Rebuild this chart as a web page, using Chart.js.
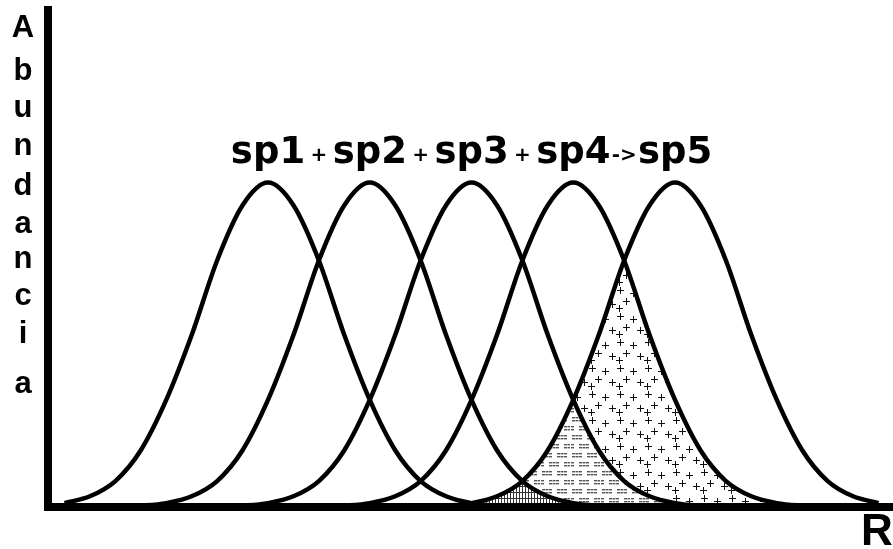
<!DOCTYPE html>
<html>
<head>
<meta charset="utf-8">
<script src="https://cdn.jsdelivr.net/npm/chart.js@4.4.1/dist/chart.umd.min.js"></script>
<style>
  html, body { margin: 0; padding: 0; background: #fff; }
</style>
</head>
<body>
<canvas id="nicheChart" width="893" height="549"></canvas>
<script>
// eje R (recurso)
const rValues = [0, 2.5, 5, 7.5, 10, 12.5, 15, 17.5, 20, 22.5, 25, 27.5, 30, 32.5, 35, 37.5, 40,
                 42.5, 45, 47.5, 50, 52.5, 55, 57.5, 60, 62.5, 65, 67.5, 70, 72.5, 75, 77.5, 80];

// abundancia de cada especie
const sp1 = [1.2, 3.3, 8, 17.5, 33, 53, 76, 93, 100, 93, 76, 53, 33, 17.5, 8, 3.3, 1.2,
             0.4, 0, 0, 0, 0, 0, 0, 0, 0, 0, 0, 0, 0, 0, 0, 0];
const sp2 = [0, 0, 0, 0.4, 1.2, 3.3, 8, 17.5, 33, 53, 76, 93, 100, 93, 76, 53, 33,
             17.5, 8, 3.3, 1.2, 0.4, 0, 0, 0, 0, 0, 0, 0, 0, 0, 0, 0];
const sp3 = [0, 0, 0, 0, 0, 0, 0, 0.4, 1.2, 3.3, 8, 17.5, 33, 53, 76, 93, 100,
             93, 76, 53, 33, 17.5, 8, 3.3, 1.2, 0.4, 0, 0, 0, 0, 0, 0, 0];
const sp4 = [0, 0, 0, 0, 0, 0, 0, 0, 0, 0, 0, 0.4, 1.2, 3.3, 8, 17.5, 33,
             53, 76, 93, 100, 93, 76, 53, 33, 17.5, 8, 3.3, 1.2, 0.4, 0, 0, 0];
const sp5 = [0, 0, 0, 0, 0, 0, 0, 0, 0, 0, 0, 0, 0, 0, 0, 0.4, 1.2,
             3.3, 8, 17.5, 33, 53, 76, 93, 100, 93, 76, 53, 33, 17.5, 8, 3.3, 1.2];

const speciesNames = ['sp1', 'sp2', 'sp3', 'sp4', 'sp5'];
const speciesPeaks = [20, 30, 40, 50, 60];
const separators = ['+', '+', '+', '->'];
const yTitle = 'Abundancia';
const xTitle = 'R';

const allSeries = [sp1, sp2, sp3, sp4, sp5];

// patrones de relleno
function makePattern(ctx, w, h, drawFn) {
    const c = document.createElement('canvas');
    c.width = w;
    c.height = h;
    drawFn(c.getContext('2d'));
    return ctx.createPattern(c, 'repeat');
}

function plusTile(g) {
    g.strokeStyle = '#111';
    g.lineWidth = 1;
    const spots = [[4, 4], [17, 7], [10, 15], [24, 18], [3, 22]];
    spots.forEach(([x, y]) => {
        g.beginPath();
        g.moveTo(x - 3, y + 0.5); g.lineTo(x + 4, y + 0.5);
        g.moveTo(x + 0.5, y - 3); g.lineTo(x + 0.5, y + 4);
        g.stroke();
    });
}

function dashTile(g) {
    g.fillStyle = '#555';
    const groups = [[2, 3], [17, 3], [9, 12], [24, 12]];
    groups.forEach(([x, y]) => {
        for (let k = 0; k < 3; k++) {
            const gx = (x + k * 3.5) % 30;
            g.fillRect(gx, y, 3, 1.4);
            g.fillRect(gx, y + 3, 3, 1.4);
        }
    });
}

function gridTile(g) {
    g.fillStyle = '#333';
    g.fillRect(0, 0, 1, 6);
    g.fillRect(0, 0, 3, 1);
}

function areaPath(ctx, chart, index) {
    const line = chart.getDatasetMeta(index).dataset;
    const pts = line.points;
    const base = chart.scales.y.getPixelForValue(0);
    line.updateControlPoints(chart.chartArea, 'x');
    ctx.beginPath();
    line.path(ctx);
    ctx.lineTo(pts[pts.length - 1].x, base);
    ctx.lineTo(pts[0].x, base);
    ctx.closePath();
}

function fillOverlap(chart, a, b, pattern) {
    const ctx = chart.ctx;
    const area = chart.chartArea;
    ctx.save();
    areaPath(ctx, chart, a);
    ctx.clip();
    areaPath(ctx, chart, b);
    ctx.clip();
    ctx.fillStyle = '#fff';
    ctx.fillRect(area.left, area.top, area.right - area.left, area.bottom - area.top);
    ctx.fillStyle = pattern;
    ctx.fillRect(area.left, area.top, area.right - area.left, area.bottom - area.top);
    ctx.restore();
}

const overlapPlugin = {
    id: 'overlaps',
    beforeDraw(chart) {
        const ctx = chart.ctx;
        fillOverlap(chart, 3, 4, makePattern(ctx, 28, 26, plusTile));
        fillOverlap(chart, 2, 4, makePattern(ctx, 30, 18, dashTile));
        fillOverlap(chart, 1, 4, makePattern(ctx, 3, 6, gridTile));
    }
};

// líneas base de las letras del título vertical
const yTitleBaselines = [37, 80, 117, 155, 195, 233, 268, 305, 343, 393];

const textPlugin = {
    id: 'texts',
    afterDraw(chart) {
        const ctx = chart.ctx;
        const xs = chart.scales.x;
        ctx.save();
        ctx.fillStyle = '#000';
        ctx.textAlign = 'center';
        ctx.textBaseline = 'alphabetic';
        ctx.font = 'bold 37px "DejaVu Sans"';
        speciesNames.forEach((name, i) => {
            ctx.fillText(name, xs.getPixelForValue(speciesPeaks[i]), 163);
        });
        ctx.font = 'bold 20px "DejaVu Sans"';
        separators.forEach((s, i) => {
            const mid = (speciesPeaks[i] + speciesPeaks[i + 1]) / 2;
            ctx.fillText(s, xs.getPixelForValue(mid), 161);
        });
        // titulo vertical, letra por letra
        ctx.font = 'bold 31px "Liberation Sans"';
        yTitle.split('').forEach((ch, i) => {
            ctx.fillText(ch, 23, yTitleBaselines[i]);
        });
        ctx.textAlign = 'left';
        ctx.font = 'bold 44px "Liberation Sans"';
        ctx.fillText(xTitle, 861, 545);
        ctx.restore();
    }
};

const ctx = document.getElementById('nicheChart').getContext('2d');
const myChart = new Chart(ctx, {
    type: 'line',
    data: {
        datasets: allSeries.map((serie, i) => ({
            label: speciesNames[i],
            data: rValues.map((r, j) => ({ x: r, y: serie[j] })),
            borderColor: '#000',
            borderWidth: 4.5,
            pointRadius: 0,
            fill: false,
            cubicInterpolationMode: 'monotone'
        }))
    },
    options: {
        responsive: false,
        animation: false,
        devicePixelRatio: 1,
        layout: { padding: { left: 48, top: 10, right: 0, bottom: 42 } },
        plugins: {
            legend: { display: false },
            tooltip: { enabled: false }
        },
        scales: {
            x: {
                type: 'linear',
                min: -1.62,
                max: 81.42,
                grid: { display: false, drawTicks: false },
                ticks: { display: false },
                border: { display: true, color: '#000', width: 8 }
            },
            y: {
                min: 0,
                max: 153.2,
                grid: { display: false, drawTicks: false },
                ticks: { display: false },
                border: { display: true, color: '#000', width: 8 }
            }
        }
    },
    plugins: [overlapPlugin, textPlugin]
});
</script>
</body>
</html>
